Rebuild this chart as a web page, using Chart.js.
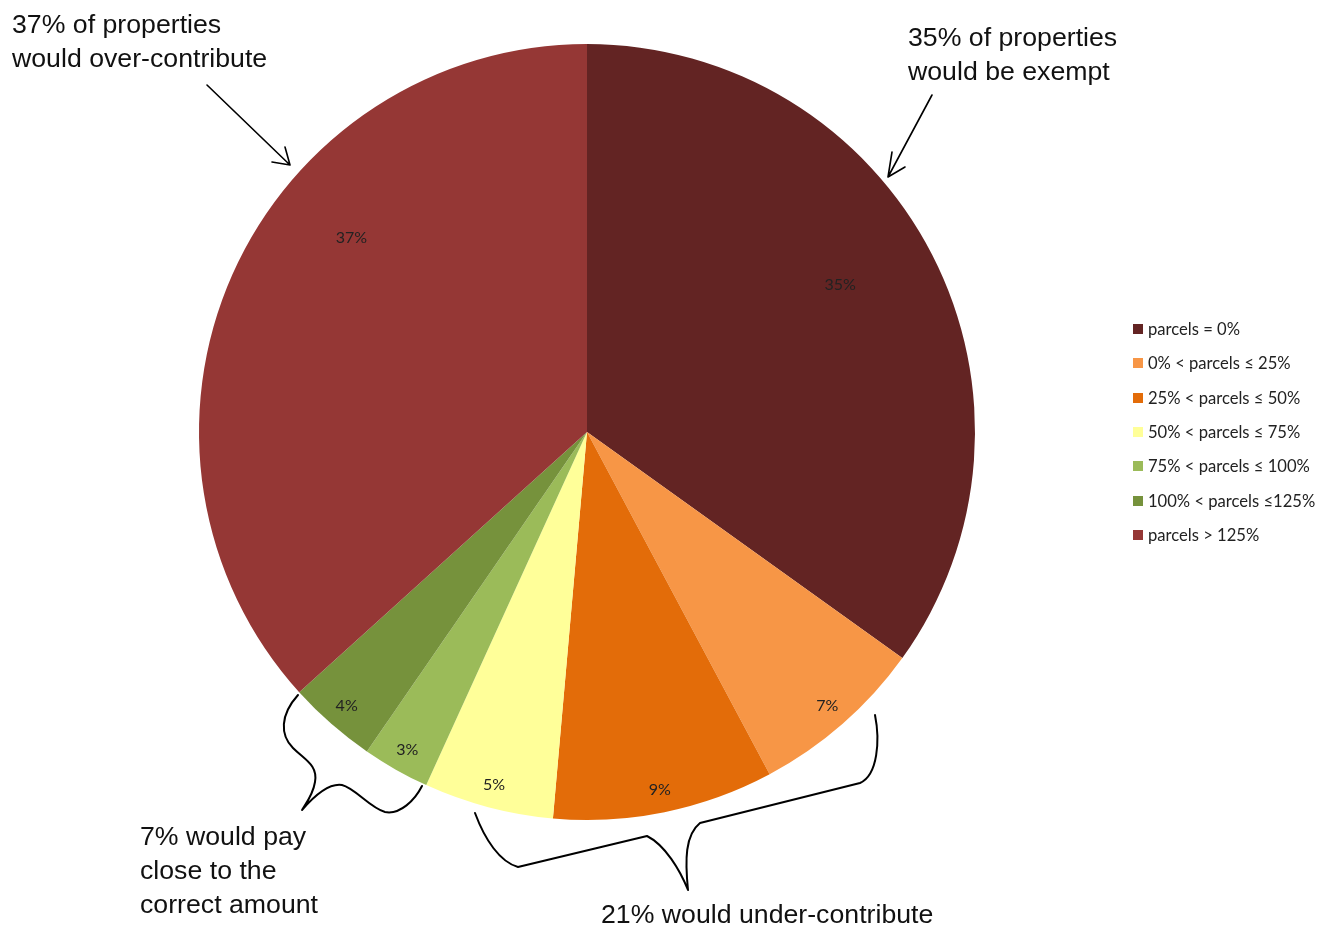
<!DOCTYPE html>
<html>
<head>
<meta charset="utf-8">
<script src="https://cdn.jsdelivr.net/npm/chart.js@4/dist/chart.umd.min.js"></script>
<style>
  html, body { margin: 0; padding: 0; background: #fff; }
  #wrap { position: relative; width: 1335px; height: 929px; }
  canvas { position: absolute; left: 0; top: 0; }
  .note { position: absolute; font-family: "Liberation Sans", Arial, sans-serif; font-size: 26.7px; line-height: 34px; color: #111; white-space: nowrap; }
  #legend { position: absolute; left: 1133px; top: 312px; font-family: Lato, "Open Sans", sans-serif; font-size: 16.6px; color: #222; }
  #legend div { height: 34.3px; display: flex; align-items: center; white-space: pre; }
  #legend span.box { width: 10px; height: 10px; margin-right: 5px; display: inline-block; }
</style>
</head>
<body>
<div id="wrap">
  <canvas id="chart" width="1335" height="929"></canvas>
  <div class="note" style="left:12px; top:7px;">37% of properties<br>would over-contribute</div>
  <div class="note" style="left:908px; top:20px;">35% of properties<br>would be exempt</div>
  <div class="note" style="left:140px; top:819px;">7% would pay<br>close to the<br>correct amount</div>
  <div class="note" style="left:601px; top:897px;">21% would under-contribute</div>
  <div id="legend"></div>
</div>
<script>
const categories = [
  'parcels = 0%',
  '0% < parcels ≤ 25%',
  '25% < parcels ≤ 50%',
  '50% < parcels ≤ 75%',
  '75% < parcels ≤ 100%',
  '100% < parcels ≤125%',
  'parcels > 125%'
]
const shares = [34.9, 7.3, 9.2, 5.4, 2.8, 3.7, 36.7]
const shareLabels = ['35%', '7%', '9%', '5%', '3%', '4%', '37%']
const colors = ['#632423', '#F79646', '#E36C09', '#FFFF99', '#9BBB59', '#76923C', '#953735']

// label placement (radius fraction, angle shift in degrees), like Excel's best fit
const labelPlace = [[0.755, -3], [0.94, 0], [0.94, 0], [0.94, 0], [0.94, 0], [0.94, 0], [0.786, 15.5]]

const legend = document.getElementById('legend')
categories.forEach((c, i) => {
  const row = document.createElement('div')
  row.innerHTML = '<span class="box" style="background:' + colors[i] + '"></span>' + c
  legend.appendChild(row)
})

const sliceLabels = {
  id: 'sliceLabels',
  afterDatasetsDraw(chart) {
    const ctx = chart.ctx
    const arcs = chart.getDatasetMeta(0).data
    ctx.save()
    ctx.font = '16px Lato, "Open Sans", sans-serif'
    ctx.fillStyle = '#222'
    ctx.textAlign = 'center'
    ctx.textBaseline = 'middle'
    arcs.forEach((arc, i) => {
      const p = labelPlace[i]
      const a = (arc.startAngle + arc.endAngle) / 2 + p[1] * Math.PI / 180
      const r = arc.outerRadius * p[0]
      ctx.fillText(shareLabels[i], arc.x + Math.cos(a) * r, arc.y + Math.sin(a) * r)
    })
    ctx.restore()
  }
}

const annotations = {
  id: 'annotations',
  afterDraw(chart) {
    const ctx = chart.ctx
    ctx.save()
    ctx.strokeStyle = '#000'
    ctx.lineCap = 'round'
    ctx.lineJoin = 'round'
    ctx.lineWidth = 1.6
    ctx.stroke(new Path2D('M207,85 L290,165 M272,162 L290,165 L285,147'))
    ctx.stroke(new Path2D('M932,95 L888,177 M905,167 L888,177 L892,152'))
    ctx.lineWidth = 2
    ctx.stroke(new Path2D('M298,695 C280,715 280,735 293,748 C305,760 318,765 315,782 C313,795 305,805 302,810 C315,795 330,783 342,785 C355,788 370,808 385,812 C400,815 415,800 422,786'))
    ctx.stroke(new Path2D('M475,813 C485,840 500,862 518,867 L647,836 C665,845 680,870 688,890 C685,860 685,835 700,823 L860,783 C878,775 880,740 875,715'))
    ctx.restore()
  }
}

new Chart(document.getElementById('chart'), {
  type: 'pie',
  data: {
    labels: categories,
    datasets: [{
      data: shares,
      backgroundColor: colors,
      borderWidth: 0
    }]
  },
  options: {
    responsive: false,
    animation: false,
    layout: {
      padding: { left: 199, right: 360, top: 44, bottom: 109 }
    },
    plugins: {
      legend: { display: false },
      tooltip: { enabled: false }
    }
  },
  plugins: [sliceLabels, annotations]
})
</script>
</body>
</html>
